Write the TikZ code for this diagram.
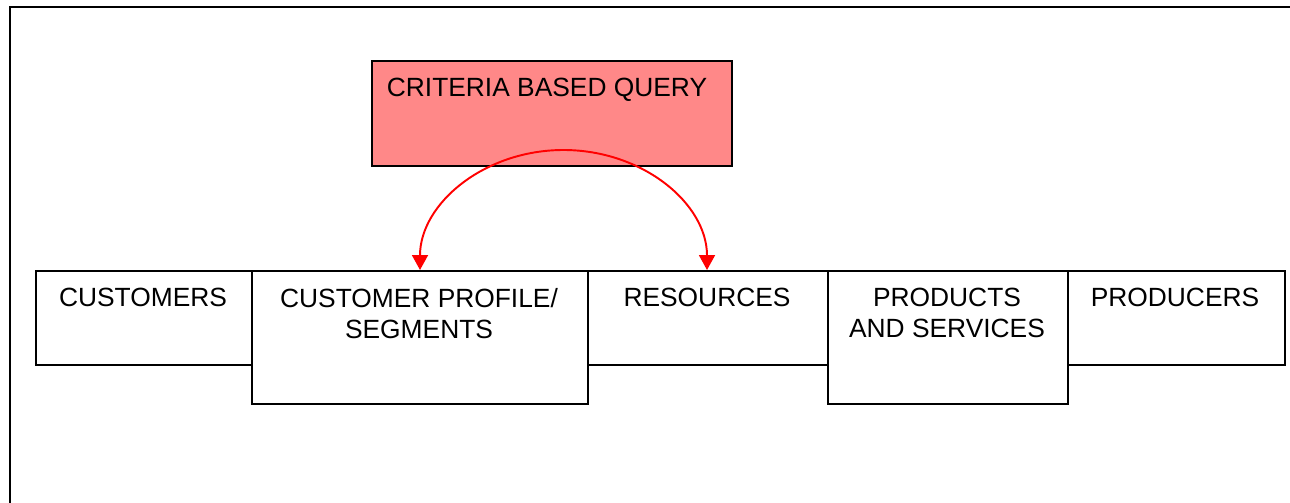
\documentclass[tikz,border=0pt]{standalone}
\usepackage{fontspec}
\setmainfont{Liberation Sans}
\usetikzlibrary{arrows.meta}
\definecolor{querypink}{HTML}{FF8888}

\begin{document}
\begin{tikzpicture}[x=0.02cm,y=-0.02cm,
  block/.style={draw,line width=0.9pt,inner sep=0pt,anchor=north west},
  blocklow/.style={block,minimum height=1.88cm},
  blockhigh/.style={block,minimum height=2.66cm},
  blocktext/.style={anchor=north,align=center,inner sep=0pt,font=\fontsize{15}{17.6}\selectfont},
  queryarc/.style={red,line width=1.1pt,{Triangle[length=3mm,width=3.2mm]}-{Triangle[length=3mm,width=3.2mm]}}]
\useasboundingbox (0,0) rectangle (1290,503);
\draw[line width=1.3pt] (10,510) -- (10,7) -- (1300,7);
\node[block,fill=querypink,minimum width=7.2cm,minimum height=2.1cm] (query) at (371,60) {};
\node[blocklow,minimum width=4.32cm] (cust) at (35,270) {};
\node[blockhigh,minimum width=6.72cm] (prof) at (251,270) {};
\node[blocklow,minimum width=4.8cm] (res) at (587,270) {};
\node[blockhigh,minimum width=4.8cm] (prod) at (827,270) {};
\node[blocklow,minimum width=4.34cm] (pcer) at (1067,270) {};
\node[blocktext] (querytext) at (547,78) {CRITERIA BASED QUERY};
\node[blocktext] (custtext) at (143,288) {CUSTOMERS};
\node[blocktext] (proftext) at (419,288) {CUSTOMER PROFILE/\\SEGMENTS};
\node[blocktext] (restext) at (707,288) {RESOURCES};
\node[blocktext] (prodtext) at (947,288) {PRODUCTS\\AND SERVICES};
\node[blocktext] (pcertext) at (1175,288) {PRODUCERS};
\coordinate (profin) at (420,270);
\coordinate (resin) at (707,270);
\draw[queryarc] (profin) arc[start angle=180,end angle=360,x radius=143.5,y radius=120];
\end{tikzpicture}
\end{document}
